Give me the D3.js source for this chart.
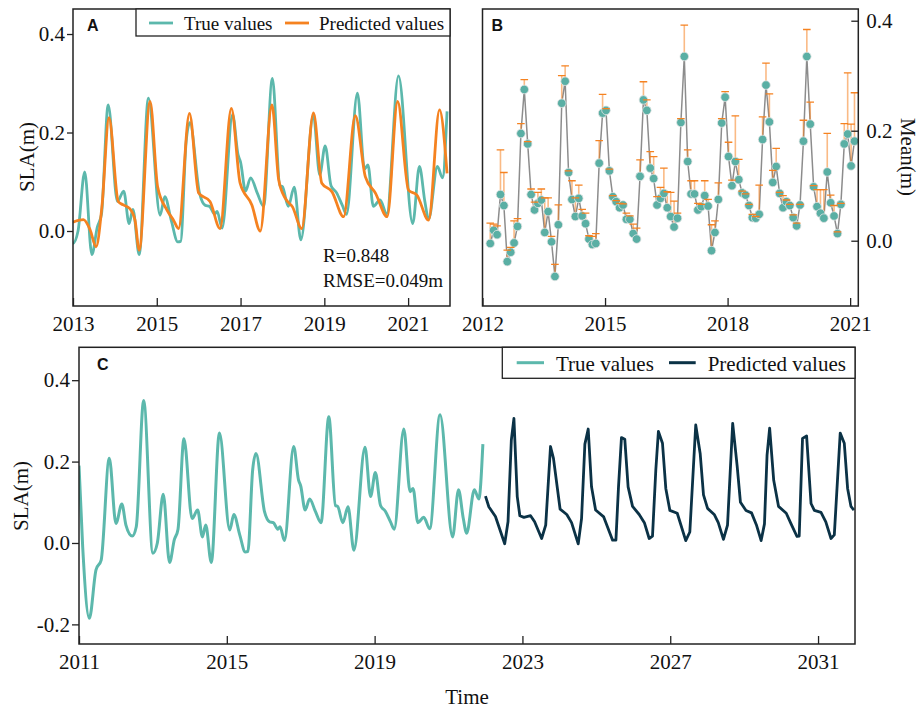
<!DOCTYPE html>
<html>
<head>
<meta charset="utf-8">
<script src="https://cdn.jsdelivr.net/npm/d3@7"></script>
<style>
  body { margin: 0; background: #fff; }
  svg text { font-family: "Liberation Serif", "Times New Roman", serif; fill: #111; }
  .axis text { font-size: 21px; }
  .axis line { stroke: #222; stroke-width: 1.3px; }
  .axis path { display: none; }
  .frame { fill: none; stroke: #222; stroke-width: 1.5px; }
  svg text.tag { font-family: "Liberation Sans", Arial, sans-serif; font-weight: bold; font-size: 16px; }
</style>
</head>
<body>
<svg id="chart" width="919" height="711"></svg>
<script>
// observed SLA (A and C share it), decimal years
const trueYears = [2011.00, 2011.10, 2011.28, 2011.46, 2011.60, 2011.82, 2012.00, 2012.16, 2012.27, 2012.44,
  2012.55, 2012.75, 2013.00, 2013.12, 2013.28, 2013.45, 2013.58, 2013.68, 2013.84, 2014.06,
  2014.21, 2014.34, 2014.43, 2014.58, 2014.80, 2015.08, 2015.19, 2015.35, 2015.50, 2015.57,
  2015.70, 2015.79, 2016.02, 2016.16, 2016.26, 2016.38, 2016.44, 2016.56, 2016.81, 2016.94,
  2017.00, 2017.12, 2017.24, 2017.40, 2017.55, 2017.76, 2017.94, 2018.00, 2018.14, 2018.28,
  2018.44, 2018.74, 2018.89, 2019.02, 2019.16, 2019.29, 2019.43, 2019.53, 2019.79, 2019.96,
  2020.04, 2020.17, 2020.33, 2020.49, 2020.77, 2021.11, 2021.27, 2021.40, 2021.49, 2021.70,
  2021.82, 2021.93];
const trueSLA = [0.19, -0.01, -0.185, -0.066, -0.042, 0.208, 0.048, 0.096, 0.044, 0.017,
  0.04, 0.35, -0.025, 0.0, 0.12, -0.048, 0.008, 0.034, 0.256, 0.06,
  0.081, 0.015, 0.044, -0.048, 0.27, 0.032, 0.07, 0.02, -0.022, -0.021,
  0.18, 0.22, 0.077, 0.052, 0.05, 0.034, 0.04, 0.006, 0.237, 0.155,
  0.14, 0.081, 0.108, 0.077, 0.05, 0.31, 0.092, 0.09, 0.05, 0.089,
  -0.018, 0.235, 0.114, 0.173, 0.092, 0.078, 0.052, 0.034, 0.28, 0.126,
  0.134, 0.05, 0.063, 0.035, 0.315, 0.015, 0.131, 0.06, 0.024, 0.131,
  0.108, 0.243];

// model fit shown in A
const predYearsA = [2013.00, 2013.25, 2013.41, 2013.55, 2013.69, 2013.86, 2014.08, 2014.20, 2014.35, 2014.48,
  2014.58, 2014.84, 2015.02, 2015.24, 2015.40, 2015.52, 2015.78, 2016.00, 2016.27, 2016.51,
  2016.78, 2016.99, 2017.27, 2017.47, 2017.75, 2017.91, 2018.07, 2018.24, 2018.46, 2018.74,
  2018.94, 2019.18, 2019.46, 2019.74, 2019.98, 2020.22, 2020.50, 2020.75, 2021.01, 2021.21,
  2021.49, 2021.75, 2021.93];
const predSLA_A = [0.018, 0.023, 0.002, -0.032, 0.049, 0.23, 0.06, 0.053, 0.046, 0.022,
  -0.039, 0.263, 0.09, 0.043, 0.022, 0.005, 0.239, 0.077, 0.06, 0.005,
  0.249, 0.097, 0.053, 0.0, 0.256, 0.104, 0.066, 0.049, 0.005, 0.24,
  0.097, 0.08, 0.029, 0.234, 0.11, 0.077, 0.029, 0.263, 0.083, 0.073,
  0.022, 0.246, 0.117];

// forecast shown in C
const fcYears = [2022.00, 2022.09, 2022.27, 2022.52, 2022.61, 2022.70, 2022.77, 2022.86, 2022.93,
  2023.04, 2023.22, 2023.33, 2023.52, 2023.63, 2023.76, 2023.84,
  2024.02, 2024.20, 2024.33, 2024.51, 2024.60, 2024.69, 2024.78, 2024.87, 2024.98,
  2025.20, 2025.44, 2025.53, 2025.60, 2025.68, 2025.77, 2025.86, 2025.98,
  2026.16, 2026.30, 2026.43, 2026.52, 2026.61, 2026.68, 2026.79, 2026.88, 2026.99,
  2027.19, 2027.42, 2027.53, 2027.69, 2027.81, 2027.90,
  2028.01, 2028.19, 2028.30, 2028.44, 2028.55, 2028.69, 2028.81, 2028.90,
  2029.05, 2029.20, 2029.33, 2029.46, 2029.55, 2029.62, 2029.69, 2029.80, 2029.93,
  2030.14, 2030.27, 2030.43, 2030.49, 2030.58, 2030.69, 2030.81, 2030.90,
  2031.08, 2031.21, 2031.35, 2031.44, 2031.60, 2031.71, 2031.80, 2031.89, 2031.97];
const fcSLA = [0.115, 0.089, 0.065, -0.002, 0.052, 0.253, 0.306, 0.114, 0.067,
  0.063, 0.067, 0.052, 0.011, 0.044, 0.237, 0.208,
  0.083, 0.07, 0.05, -0.002, 0.06, 0.243, 0.28, 0.138, 0.081,
  0.064, 0.007, 0.007, 0.138, 0.259, 0.255, 0.138, 0.09,
  0.07, 0.05, 0.011, 0.017, 0.18, 0.274, 0.245, 0.134, 0.08,
  0.073, 0.006, 0.027, 0.29, 0.22, 0.118,
  0.085, 0.07, 0.05, 0.009, 0.044, 0.294, 0.19, 0.1,
  0.08, 0.074, 0.045, 0.006, 0.047, 0.216, 0.282, 0.154, 0.09,
  0.073, 0.047, 0.016, 0.017, 0.257, 0.263, 0.097, 0.08,
  0.075, 0.052, 0.011, 0.02, 0.27, 0.245, 0.134, 0.09, 0.081];

// monthly means in B, first month and error bar tops
const meanStart = 2012.19;
const monthlyMean = [-0.005, 0.019, 0.011, 0.084, 0.064, -0.038, -0.021, -0.004, 0.026, 0.195,
  0.275, 0.176, 0.084, 0.056, 0.068, 0.074, 0.015, 0.053, -0.002, -0.065,
  0.029, 0.25, 0.29, 0.124, 0.075, 0.044, 0.077, 0.045, 0.031, 0.003,
  -0.007, -0.005, 0.141, 0.232, 0.237, 0.127, 0.08, 0.071, 0.06, 0.065,
  0.039, 0.039, 0.013, 0.003, 0.117, 0.256, 0.237, 0.132, 0.113, 0.065,
  0.077, 0.086, 0.06, 0.044, 0.025, 0.041, 0.215, 0.335, 0.144, 0.085,
  0.085, 0.056, 0.062, 0.082, 0.063, -0.018, 0.015, 0.075, 0.214, 0.261,
  0.153, 0.1, 0.144, 0.111, 0.087, 0.083, 0.064, 0.042, 0.041, 0.048,
  0.184, 0.283, 0.216, 0.106, 0.135, 0.086, 0.06, 0.071, 0.064, 0.042,
  0.027, 0.065, 0.181, 0.335, 0.212, 0.098, 0.062, 0.05, 0.041, 0.125,
  0.069, 0.045, 0.013, 0.066, 0.176, 0.194, 0.136, 0.181];
const meanUpper = [0.032, 0.03, 0.027, 0.165, 0.124, -0.017, -0.012, 0.036, 0.04, 0.213,
  0.293, 0.18, 0.094, 0.07, 0.088, 0.094, 0.078, 0.078, 0.008, -0.043,
  0.065, 0.3, 0.318, 0.127, 0.109, 0.078, 0.101, 0.057, 0.05, 0.009,
  0.008, 0.013, 0.182, 0.266, 0.24, 0.13, 0.082, 0.073, 0.068, 0.067,
  0.05, 0.045, 0.03, 0.023, 0.147, 0.289, 0.256, 0.162, 0.153, 0.08,
  0.097, 0.132, 0.089, 0.088, 0.072, 0.05, 0.222, 0.392, 0.165, 0.109,
  0.109, 0.068, 0.066, 0.109, 0.075, 0.029, 0.036, 0.105, 0.222, 0.271,
  0.179, 0.11, 0.227, 0.148, 0.09, 0.085, 0.066, 0.048, 0.044, 0.101,
  0.225, 0.323, 0.267, 0.128, 0.168, 0.088, 0.082, 0.074, 0.066, 0.047,
  0.032, 0.066, 0.219, 0.384, 0.252, 0.1, 0.093, 0.093, 0.093, 0.195,
  0.083, 0.064, 0.016, 0.068, 0.213, 0.305, 0.212, 0.269];

// ticks
const yearTicksA = [2013, 2015, 2017, 2019, 2021];
const yearTicksB = [2012, 2015, 2018, 2021];
const yearTicksC = [2011, 2015, 2019, 2023, 2027, 2031];
const slaTicksAB = [0, 0.2, 0.4];
const slaTicksC = [-0.2, 0, 0.2, 0.4];

const teal = "#5cb8ac", orange = "#f58220", navy = "#0b3246";
const fmtY = d => d.toFixed(1);

const svg = d3.select("#chart");
svg.append("rect").attr("width", 919).attr("height", 711).attr("fill", "#fff");

const trueData = trueYears.map((t, i) => ({ t: t, v: trueSLA[i] }));
const predData = predYearsA.map((t, i) => ({ t: t, v: predSLA_A[i] }));
const fcData = fcYears.map((t, i) => ({ t: t, v: fcSLA[i] }));
const meanData = monthlyMean.map((v, i) => ({ t: meanStart + i / 12, v: v, up: meanUpper[i] }));

function clip(id, x0, y0, x1, y1) {
  svg.append("clipPath").attr("id", id).append("rect")
    .attr("x", x0).attr("y", y0).attr("width", x1 - x0).attr("height", y1 - y0);
}

// ---------- panel A ----------
const xA = d3.scaleLinear().domain([2013, 2022]).range([73, 450]);
const yA = d3.scaleLinear().domain([-0.1523, 0.4508]).range([306, 9]);
clip("clipA", 73, 9, 450, 306);

const lineA = d3.line().x(d => xA(d.t)).y(d => yA(d.v)).curve(d3.curveMonotoneX);
const gA = svg.append("g").attr("clip-path", "url(#clipA)");
gA.append("path").datum(trueData).attr("d", lineA)
  .attr("fill", "none").attr("stroke", teal).attr("stroke-width", 2.8);
gA.append("path").datum(predData).attr("d", lineA)
  .attr("fill", "none").attr("stroke", orange).attr("stroke-width", 2.8);

svg.append("g").attr("class", "axis").attr("transform", "translate(0,306)")
  .call(d3.axisBottom(xA).tickValues(yearTicksA).tickFormat(d3.format("d"))
    .tickSizeInner(-8).tickSizeOuter(0).tickPadding(10));
svg.append("g").attr("class", "axis").attr("transform", "translate(73,0)")
  .call(d3.axisLeft(yA).tickValues(slaTicksAB).tickFormat(fmtY)
    .tickSizeInner(6).tickSizeOuter(0).tickPadding(2));
svg.append("rect").attr("class", "frame").attr("x", 73).attr("y", 9).attr("width", 377).attr("height", 297);

svg.append("text").attr("transform", "translate(27,157) rotate(-90)")
  .attr("text-anchor", "middle").attr("dy", "0.35em").style("font-size", "21px").text("SLA(m)");
svg.append("text").attr("class", "tag").attr("x", 87).attr("y", 31).text("A");

// legend A
const legA = svg.append("g");
legA.append("rect").attr("x", 136).attr("y", 9).attr("width", 314).attr("height", 27)
  .attr("fill", "#fff").attr("stroke", "#222").attr("stroke-width", 1.3);
legA.append("line").attr("x1", 149).attr("x2", 173).attr("y1", 23).attr("y2", 23)
  .attr("stroke", teal).attr("stroke-width", 2.8);
legA.append("text").attr("x", 184).attr("y", 30).style("font-size", "19px").text("True values");
legA.append("line").attr("x1", 285).attr("x2", 309).attr("y1", 23).attr("y2", 23)
  .attr("stroke", orange).attr("stroke-width", 2.8);
legA.append("text").attr("x", 319).attr("y", 30).style("font-size", "19px").text("Predicted values");

svg.append("text").attr("x", 323).attr("y", 262).style("font-size", "19px").text("R=0.848");
svg.append("text").attr("x", 323).attr("y", 287).style("font-size", "19px").text("RMSE=0.049m");

// ---------- panel B ----------
const xB = d3.scaleLinear().domain([2012, 2021.2]).range([482.5, 858.3]);
const yB = d3.scaleLinear().domain([-0.1187, 0.4213]).range([306, 9]);
clip("clipB", 482.5, 9, 858.3, 306);
const gB = svg.append("g").attr("clip-path", "url(#clipB)");

gB.append("path").datum(meanData)
  .attr("d", d3.line().x(d => xB(d.t)).y(d => yB(d.v)))
  .attr("fill", "none").attr("stroke", "#8c8c8c").attr("stroke-width", 1.5);
gB.selectAll(".ebar").data(meanData).join("line").attr("class", "ebar")
  .attr("x1", d => xB(d.t)).attr("x2", d => xB(d.t))
  .attr("y1", d => yB(d.v)).attr("y2", d => yB(d.up))
  .attr("stroke", orange).attr("stroke-opacity", 0.55).attr("stroke-width", 1.6);
gB.selectAll(".dot").data(meanData).join("circle").attr("class", "dot")
  .attr("cx", d => xB(d.t)).attr("cy", d => yB(d.v)).attr("r", 4.3)
  .attr("fill", "#5aafa4").attr("stroke", "#e4e4e4").attr("stroke-width", 0.8);
gB.selectAll(".cap").data(meanData).join("line").attr("class", "cap")
  .attr("x1", d => xB(d.t) - 3.8).attr("x2", d => xB(d.t) + 3.8)
  .attr("y1", d => yB(d.up)).attr("y2", d => yB(d.up))
  .attr("stroke", orange).attr("stroke-width", 1.3);

svg.append("g").attr("class", "axis").attr("transform", "translate(0,306)")
  .call(d3.axisBottom(xB).tickValues(yearTicksB).tickFormat(d3.format("d"))
    .tickSizeInner(-8).tickSizeOuter(0).tickPadding(10));
svg.append("g").attr("class", "axis").attr("transform", "translate(858.3,0)")
  .call(d3.axisRight(yB).tickValues(slaTicksAB).tickFormat(fmtY)
    .tickSizeInner(-7).tickSizeOuter(0).tickPadding(8));
svg.append("rect").attr("class", "frame").attr("x", 482.5).attr("y", 9).attr("width", 375.8).attr("height", 297);

svg.append("text").attr("transform", "translate(908,157) rotate(90)")
  .attr("text-anchor", "middle").attr("dy", "0.35em").style("font-size", "21px").text("Mean(m)");
svg.append("text").attr("class", "tag").attr("x", 491.5).attr("y", 31).text("B");

// ---------- panel C ----------
const xC = d3.scaleLinear().domain([2011, 2032]).range([79, 855]);
const yC = d3.scaleLinear().domain([-0.2482, 0.4808]).range([644, 347.3]);
clip("clipC", 79, 347.3, 855, 644);
const lineC = d3.line().x(d => xC(d.t)).y(d => yC(d.v));
const gC = svg.append("g").attr("clip-path", "url(#clipC)");
gC.append("path").datum(trueData).attr("d", lineC.curve(d3.curveMonotoneX))
  .attr("fill", "none").attr("stroke", teal).attr("stroke-width", 3);
gC.append("path").datum(fcData).attr("d", lineC.curve(d3.curveLinear))
  .attr("fill", "none").attr("stroke", navy).attr("stroke-width", 2.8)
  .attr("stroke-linejoin", "round");

svg.append("g").attr("class", "axis").attr("transform", "translate(0,644)")
  .call(d3.axisBottom(xC).tickValues(yearTicksC).tickFormat(d3.format("d"))
    .tickSizeInner(-8).tickSizeOuter(0).tickPadding(10));
svg.append("g").attr("class", "axis").attr("transform", "translate(79,0)")
  .call(d3.axisLeft(yC).tickValues(slaTicksC).tickFormat(fmtY)
    .tickSizeInner(7).tickSizeOuter(0).tickPadding(2));
svg.append("rect").attr("class", "frame").attr("x", 79).attr("y", 347.3).attr("width", 776).attr("height", 296.7);

svg.append("text").attr("transform", "translate(21,496) rotate(-90)")
  .attr("text-anchor", "middle").attr("dy", "0.35em").style("font-size", "21px").text("SLA(m)");
svg.append("text").attr("x", 467).attr("y", 704).attr("text-anchor", "middle")
  .style("font-size", "21px").text("Time");
svg.append("text").attr("class", "tag").attr("x", 97).attr("y", 370).text("C");

// legend C
const legC = svg.append("g");
legC.append("rect").attr("x", 502.3).attr("y", 347.3).attr("width", 352.7).attr("height", 31)
  .attr("fill", "#fff").attr("stroke", "#222").attr("stroke-width", 1.3);
legC.append("line").attr("x1", 516.7).attr("x2", 544).attr("y1", 362.7).attr("y2", 362.7)
  .attr("stroke", teal).attr("stroke-width", 3);
legC.append("text").attr("x", 556).attr("y", 370.5).style("font-size", "21px").text("True values");
legC.append("line").attr("x1", 669).attr("x2", 695.7).attr("y1", 362.7).attr("y2", 362.7)
  .attr("stroke", navy).attr("stroke-width", 3);
legC.append("text").attr("x", 707.7).attr("y", 370.5).style("font-size", "21px").text("Predicted values");
</script>
</body>
</html>
